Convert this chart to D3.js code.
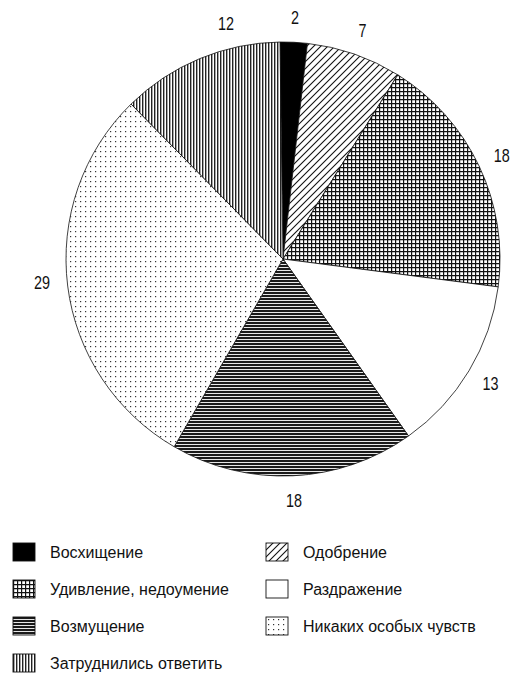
<!DOCTYPE html>
<html>
<head>
<meta charset="utf-8">
<script src="https://cdn.jsdelivr.net/npm/d3@7"></script>
<style>
    body { margin: 0; background: #fff; }
    text { font-family: "Liberation Sans", Arial, sans-serif; fill: #111; }
</style>
</head>
<body>
<div id="chart"></div>
<script>
    var categories = ["Восхищение", "Одобрение", "Удивление, недоумение", "Раздражение",
        "Возмущение", "Никаких особых чувств", "Затруднились ответить"];
    var values = [2, 7, 18, 13, 18, 29, 12];
    var fills = ["solid", "diag", "grid", "blank", "hlines", "dots", "vlines"];

    var width = 511, height = 678;
    var cx = 283, cy = 259, radius = 217;
    // small angular nudges (degrees) for value labels, as placed in the original
    var labelNudge = [0, 0, 0, 0, 0, 1.7, 9];

    var svg = d3.select("#chart")
        .append("svg:svg")
        .attr("width", width)
        .attr("height", height);

    var defs = svg.append("defs");

    function addPattern(id, w, h, draw) {
        var p = defs.append("pattern")
            .attr("id", id)
            .attr("patternUnits", "userSpaceOnUse")
            .attr("width", w)
            .attr("height", h);
        p.append("rect").attr("width", w).attr("height", h).attr("fill", "#fff");
        draw(p);
    }

    addPattern("diag", 7, 7, function (p) {
        p.append("path")
            .attr("d", "M0,7 L7,0 M-2,2 L2,-2 M5,9 L9,5")
            .attr("stroke", "#111").attr("stroke-width", 1.1);
    });
    addPattern("grid", 4, 4, function (p) {
        p.append("path")
            .attr("d", "M0,0.5 H4 M0.5,0 V4")
            .attr("stroke", "#111").attr("stroke-width", 1.4);
    });
    addPattern("hlines", 4, 3, function (p) {
        p.append("rect").attr("y", 0).attr("width", 4).attr("height", 2.1).attr("fill", "#1a1a1a");
    });
    addPattern("vlines", 3, 4, function (p) {
        p.append("rect").attr("x", 0).attr("width", 1.4).attr("height", 4).attr("fill", "#222");
    });
    addPattern("dots", 5, 5, function (p) {
        p.append("rect").attr("x", 2).attr("y", 2).attr("width", 1.2).attr("height", 1.2).attr("fill", "#333");
    });

    function fillOf(kind) {
        if (kind === "solid") return "#000";
        if (kind === "blank") return "#fff";
        return "url(#" + kind + ")";
    }

    var offset = -0.8 * Math.PI / 180;
    var pie = d3.pie()
        .sort(null)
        .value(function (d) { return d; })
        .startAngle(offset)
        .endAngle(2 * Math.PI + offset);

    var arc = d3.arc().innerRadius(0).outerRadius(radius);
    var labelR = radius + 25;

    var arcs = pie(values);
    var pieGroup = svg.append("g").attr("transform", "translate(" + cx + "," + cy + ")");

    pieGroup.selectAll("path.slice")
        .data(arcs)
        .enter()
        .append("path")
        .attr("class", "slice")
        .attr("d", arc)
        .attr("fill", function (d, i) { return fillOf(fills[i]); })
        .attr("stroke", "#111")
        .attr("stroke-width", 0.8);

    pieGroup.selectAll("text.value")
        .data(arcs)
        .enter()
        .append("text")
        .attr("class", "value")
        .attr("transform", function (d, i) {
            var a = (d.startAngle + d.endAngle) / 2 + labelNudge[i] * Math.PI / 180;
            return "translate(" + (labelR * Math.sin(a)) + "," + (-labelR * Math.cos(a)) + ") scale(0.8,1)";
        })
        .attr("text-anchor", "middle")
        .attr("dy", "0.36em")
        .style("font-size", "18px")
        .text(function (d) { return d.data; });

    // legend: two columns, last item alone in the left column
    var legend = svg.append("g");
    var colX = [13, 266], rowY = [543, 580, 617, 654];
    categories.forEach(function (name, k) {
        var col = k % 2, row = Math.floor(k / 2);
        var g = legend.append("g")
            .attr("transform", "translate(" + colX[col] + "," + rowY[row] + ")");
        g.append("rect")
            .attr("width", 22)
            .attr("height", 18)
            .attr("fill", fillOf(fills[k]))
            .attr("stroke", "#111")
            .attr("stroke-width", 0.9);
        g.append("text")
            .attr("x", 37)
            .attr("y", 9)
            .attr("dy", "0.36em")
            .style("font-size", "16px")
            .text(name);
    });
</script>
</body>
</html>
